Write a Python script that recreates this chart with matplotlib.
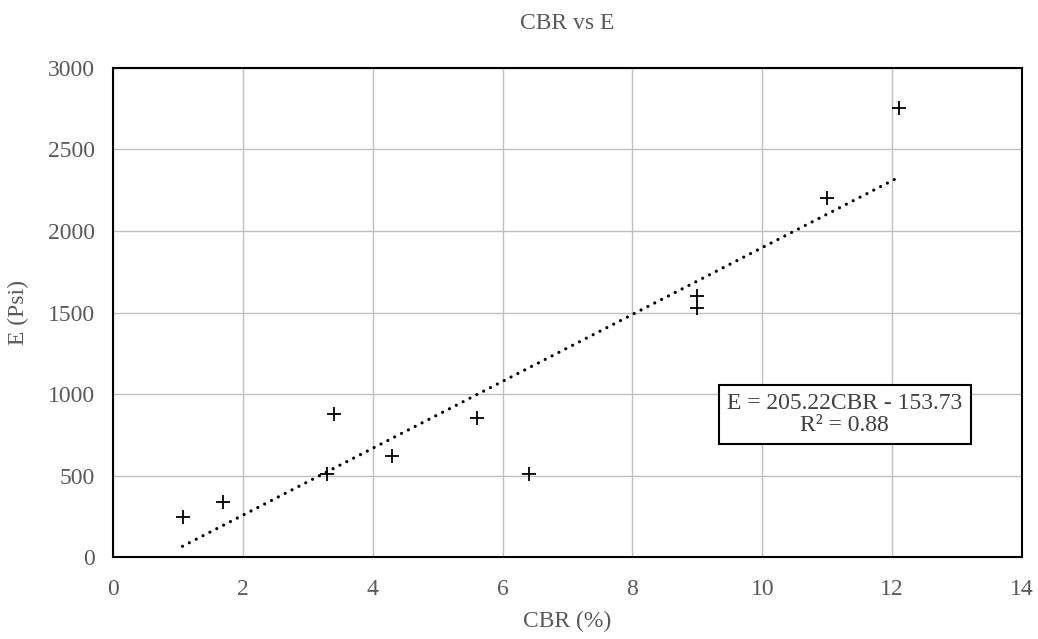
import numpy as np
import matplotlib.pyplot as plt

plt.rcParams['font.family'] = ['Liberation Serif', 'DejaVu Serif']

# CBR (%) and modulus E (psi)
cbr = [1.07, 1.7, 3.3, 3.4, 4.3, 5.6, 6.4, 9.0, 9.0, 11.0, 12.1]
e_psi = [245, 335, 510, 875, 620, 850, 510, 1600, 1525, 2200, 2755]

# Linear trendline as printed on the chart
slope = 205.22
intercept = -153.73
r2 = 0.88

fig = plt.figure(figsize=(10.38, 6.39), dpi=100)
ax = fig.add_axes([0.1089, 0.1283, 0.8757, 0.7653])

ax.scatter(cbr, e_psi, marker='+', s=110, color='black', linewidths=1.3, zorder=3)

xs = np.array([min(cbr), max(cbr)])
ax.plot(xs, slope * xs + intercept, color='black', linestyle=(0, (0.01, 2.4)),
        linewidth=2.3, dash_capstyle='round', zorder=2)

ax.set_xlim(0, 14)
ax.set_ylim(0, 3000)
ax.set_xticks(range(0, 15, 2))
ax.set_yticks(range(0, 3001, 500))
ax.grid(True, color='#bfbfbf', linewidth=1)
ax.set_axisbelow(True)
for sp in ax.spines.values():
    sp.set_color('black')
    sp.set_linewidth(1.5)
ax.tick_params(length=0, labelsize=17, labelcolor='#595959')
ax.tick_params(axis='x', pad=16)
ax.tick_params(axis='y', pad=13)

ax.set_xlabel('CBR (%)', fontsize=17, color='#595959', labelpad=8)
ax.set_ylabel('E (Psi)', fontsize=17, color='#595959', va='center')
ax.yaxis.set_label_coords(-0.104, 0.5)
ax.set_title('CBR vs E', fontsize=17, color='#595959', pad=28)

ax.text(0.805, 0.292, f'E = {slope:.2f}CBR - {abs(intercept):.2f}\nR² = {r2:.2f}',
        transform=ax.transAxes, ha='center', va='center', fontsize=17,
        color='#404040', linespacing=1.05,
        bbox=dict(boxstyle='square,pad=0.35', facecolor='white',
                  edgecolor='black', linewidth=1.5))

fig.savefig('out.png', dpi=100)
